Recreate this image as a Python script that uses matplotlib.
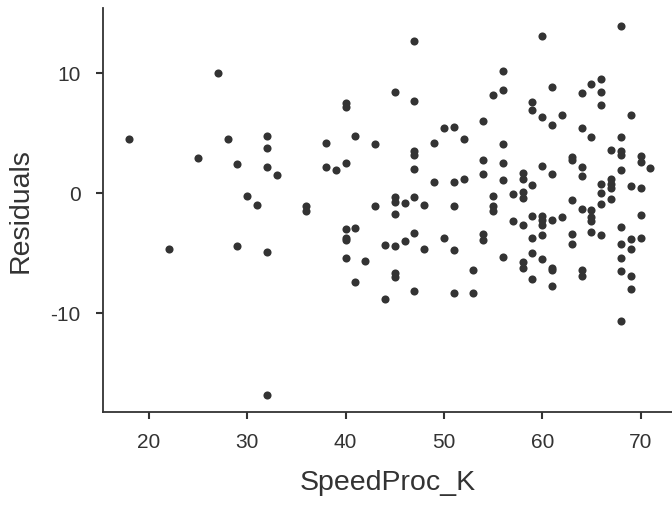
import numpy as np
import matplotlib.pyplot as plt

plt.rcParams['font.family'] = ['Liberation Sans', 'DejaVu Sans']
plt.rcParams['axes.unicode_minus'] = False

# данные: (SpeedProc_K, Residuals)
speed = [18, 27, 28, 25, 29, 32, 32, 32, 33, 30, 38, 38, 39, 40, 40, 40,
         31, 36, 36, 40, 40, 40, 40, 22, 29, 32, 32,
         47, 56, 56, 55, 45, 47, 41, 43, 49, 50, 51, 52, 54, 56, 54, 54, 56, 56,
         47, 47, 47, 49, 51, 52, 45, 46, 47, 55,
         45, 48, 43, 45, 51, 55, 55, 41, 44, 45, 46, 47, 48, 50, 51, 54, 54, 56,
         42, 41, 45, 45, 44, 47, 51, 53, 53,
         68, 60, 61, 59, 59, 60, 61, 62, 64, 65, 66, 66, 66, 69, 64, 65, 68, 67,
         68, 68, 70, 70, 71, 63, 63, 64, 64, 60, 61, 58, 58, 59, 57, 58, 58, 63,
         66, 66, 67, 67, 67, 68, 69, 70, 67,
         64, 65, 65, 65, 66, 70, 57, 58, 59, 60, 60, 60, 61, 62, 59, 60, 63, 63,
         65, 66, 68, 68, 69, 69, 70, 68, 68, 69, 69, 68, 58, 58, 59, 60, 59,
         61, 61, 61, 64, 64]
resid = [4.5, 10.0, 4.5, 2.9, 2.4, 4.8, 3.8, 2.2, 1.5, -0.2, 4.2, 2.2, 1.9, 2.5, 7.5, 7.2,
         -1.0, -1.1, -1.5, -3.0, -3.7, -3.9, -5.4, -4.6, -4.4, -4.9, -16.8,
         12.7, 10.2, 8.6, 8.2, 8.4, 7.7, 4.8, 4.1, 4.2, 5.4, 5.5, 4.5, 6.0, 4.1, 2.8, 1.6, 2.5, 1.1,
         3.5, 3.2, 2.0, 0.9, 0.9, 1.2, -0.3, -0.8, -0.3, -0.2,
         -0.7, -1.0, -1.1, -1.7, -1.1, -1.1, -1.5, -2.9, -4.3, -4.4, -4.0, -3.3, -4.6, -3.7, -4.7, -3.4, -3.9, -5.3,
         -5.6, -7.4, -6.6, -7.0, -8.8, -8.1, -8.3, -8.3, -6.4,
         13.9, 13.1, 8.8, 7.6, 6.9, 6.3, 5.7, 6.5, 8.3, 9.1, 9.5, 8.4, 7.3, 6.5, 5.4, 4.7, 4.7, 3.6,
         3.5, 3.2, 3.1, 2.6, 2.1, 3.0, 2.8, 2.2, 1.4, 2.3, 1.6, 1.7, 1.2, 0.7, -0.1, 0.1, -0.4, -0.6,
         0.8, 0.0, 1.2, 0.8, 0.4, 1.9, 0.6, 0.4, -0.5,
         -1.3, -1.4, -2.0, -2.3, -0.9, -1.8, -2.3, -2.6, -1.9, -1.9, -2.2, -2.6, -2.2, -2.0, -3.7, -3.5, -3.4, -4.2,
         -3.2, -3.5, -2.8, -4.2, -3.8, -4.6, -3.7, -5.4, -6.5, -6.9, -8.0, -10.6, -5.7, -6.2, -5.0, -5.5, -7.1,
         -6.2, -6.4, -7.7, -6.4, -6.9]

ink = '#333333'
fig = plt.figure(figsize=(6.72, 5.05), dpi=100)
ax = fig.add_axes([0.153, 0.184, 0.847, 0.8])
ax.scatter(speed, resid, s=34, c=ink, linewidths=0, zorder=3)

ax.set_xlim(15.3, 73.2)
ax.set_ylim(-18.2, 15.4)
ax.set_xticks([20, 30, 40, 50, 60, 70])
ax.set_yticks([-10, 0, 10])

ax.spines['top'].set_visible(False)
ax.spines['right'].set_visible(False)
for s in ('left', 'bottom'):
    ax.spines[s].set_color(ink)
    ax.spines[s].set_linewidth(1.3)
ax.tick_params(colors=ink, labelcolor=ink, labelsize=15, length=5, width=1.5)
ax.tick_params(axis='x', pad=10)
ax.tick_params(axis='y', pad=11)

ax.set_xlabel('SpeedProc_K', fontsize=20.5, color=ink, labelpad=13)
ax.set_ylabel('Residuals', fontsize=20.5, color=ink, labelpad=12)

fig.savefig('out.png', dpi=100)
